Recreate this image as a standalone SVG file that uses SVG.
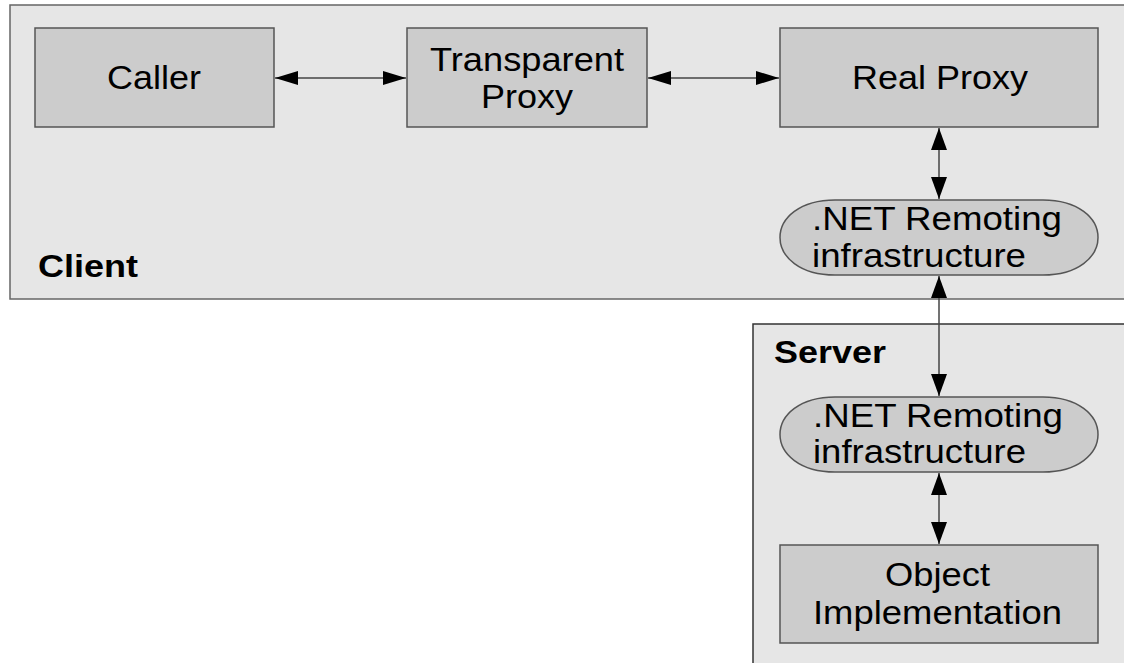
<svg xmlns="http://www.w3.org/2000/svg" width="1124" height="663" viewBox="0 0 1124 663">
<style>
.cont{fill:#e6e6e6;stroke:#666;stroke-width:1.5}
.box{fill:#cccccc;stroke:#555;stroke-width:1.5}
.t{font-family:"Liberation Sans",Arial,sans-serif;font-size:33px;fill:#000}
.b{font-weight:bold;font-size:31px}
.c{stroke:#444;stroke-width:1.5;fill:none}
</style>
<defs>
<marker id="ah" viewBox="0 0 23 14" refX="23" refY="7" markerWidth="23" markerHeight="14" markerUnits="userSpaceOnUse" orient="auto-start-reverse"><path d="M0,0 L23,7 L0,14 Z" fill="#000"/></marker>
<marker id="av" viewBox="0 0 22 16" refX="22" refY="8" markerWidth="22" markerHeight="16" markerUnits="userSpaceOnUse" orient="auto-start-reverse"><path d="M0,0 L22,8 L0,16 Z" fill="#000"/></marker>
</defs>
<rect width="1124" height="663" fill="#fff"/>
<g id="client">
<rect class="cont" x="10" y="5" width="1130" height="294"/>
<text class="t b" x="38" y="277" textLength="100" lengthAdjust="spacingAndGlyphs">Client</text>
</g>
<g id="server">
<rect class="cont" x="753" y="324" width="390" height="350" style="stroke:#333"/>
<text class="t b" x="774" y="363" textLength="112" lengthAdjust="spacingAndGlyphs">Server</text>
</g>
<g id="caller">
<rect class="box" x="35" y="28" width="239" height="99"/>
<text class="t" x="107" y="89" textLength="94" lengthAdjust="spacingAndGlyphs">Caller</text>
</g>
<g id="transparent-proxy">
<rect class="box" x="407" y="28" width="240" height="99"/>
<text class="t" x="430" y="71" textLength="194" lengthAdjust="spacingAndGlyphs">Transparent</text>
<text class="t" x="481" y="108" textLength="92" lengthAdjust="spacingAndGlyphs">Proxy</text>
</g>
<g id="real-proxy">
<rect class="box" x="780" y="28" width="318" height="99"/>
<text class="t" x="852" y="89" textLength="176" lengthAdjust="spacingAndGlyphs">Real Proxy</text>
</g>
<g id="client-remoting">
<path class="box" d="M835,200 H1043 C1078,200 1098,218 1098,237.5 C1098,257 1078,275 1043,275 H835 C800,275 780,257 780,237.5 C780,218 800,200 835,200 Z"/>
<text class="t" x="812" y="230" textLength="250" lengthAdjust="spacingAndGlyphs">.NET Remoting</text>
<text class="t" x="812" y="267" textLength="214" lengthAdjust="spacingAndGlyphs">infrastructure</text>
</g>
<g id="server-remoting">
<path class="box" d="M835,397 H1043 C1078,397 1098,415 1098,434.5 C1098,454 1078,472 1043,472 H835 C800,472 780,454 780,434.5 C780,415 800,397 835,397 Z"/>
<text class="t" x="813" y="427" textLength="250" lengthAdjust="spacingAndGlyphs">.NET Remoting</text>
<text class="t" x="813" y="463" textLength="213" lengthAdjust="spacingAndGlyphs">infrastructure</text>
</g>
<g id="object-implementation">
<rect class="box" x="780" y="545" width="318" height="98"/>
<text class="t" x="885" y="586" textLength="105" lengthAdjust="spacingAndGlyphs">Object</text>
<text class="t" x="813" y="624" textLength="249" lengthAdjust="spacingAndGlyphs">Implementation</text>
</g>
<g id="connectors">
<line class="c" x1="275" y1="78" x2="406" y2="78" marker-start="url(#ah)" marker-end="url(#ah)"/>
<line class="c" x1="648" y1="78" x2="779" y2="78" marker-start="url(#ah)" marker-end="url(#ah)"/>
<line class="c" x1="939" y1="128" x2="939" y2="199" marker-start="url(#av)" marker-end="url(#av)"/>
<line class="c" x1="939" y1="276" x2="939" y2="396" marker-start="url(#av)" marker-end="url(#av)"/>
<line class="c" x1="939" y1="473" x2="939" y2="544" marker-start="url(#av)" marker-end="url(#av)"/>
</g>
</svg>
